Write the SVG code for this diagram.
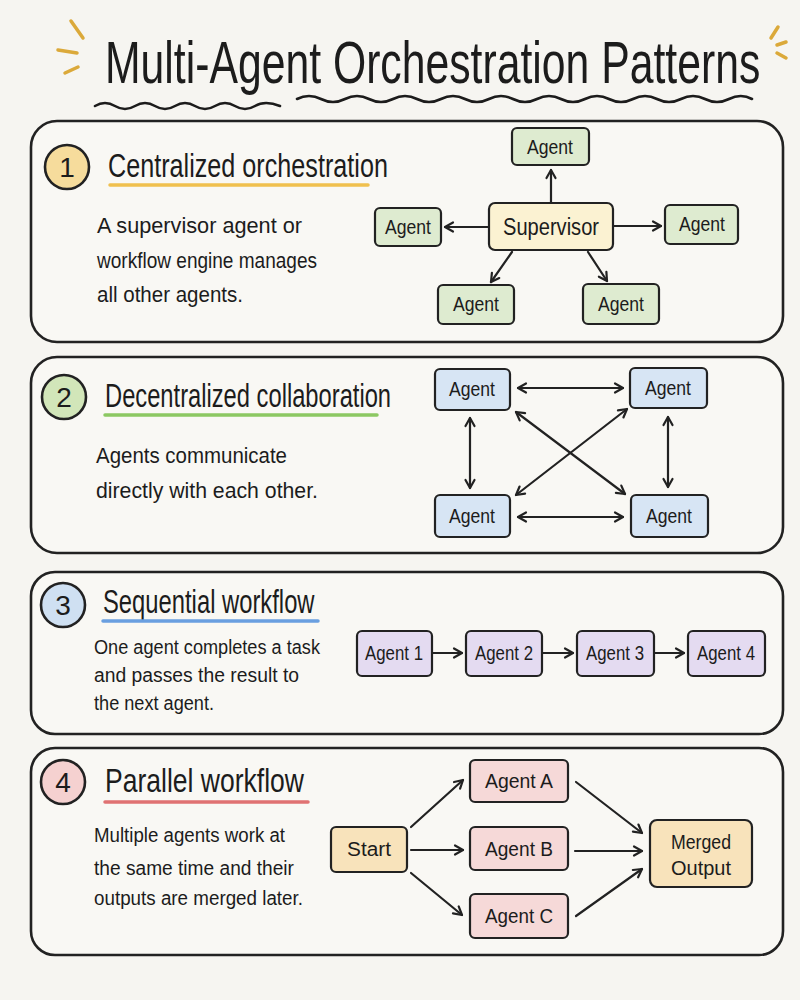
<svg xmlns="http://www.w3.org/2000/svg" width="800" height="1000" viewBox="0 0 800 1000">
<defs>
<marker id="ah" viewBox="0 0 12 12" refX="10" refY="6" markerWidth="12" markerHeight="12" markerUnits="userSpaceOnUse" orient="auto-start-reverse">
<path d="M2,1.5 L10,6 L2,10.5" fill="none" stroke="#222" stroke-width="2.2" stroke-linecap="round" stroke-linejoin="round"/>
</marker>
<style>
text{font-family:"Liberation Sans","DejaVu Sans",sans-serif;fill:#1c1c1c}
.title{font-size:60px}
.h{font-size:34px}
.b{font-size:22px}
.n{font-size:20px;text-anchor:middle}
.num{font-size:28px;text-anchor:middle}
.panel{fill:#f9f8f4;stroke:#222;stroke-width:2.6}
.box{stroke:#222;stroke-width:2.2}
.green{fill:#deebd0}
.yellow{fill:#fbf2d2}
.blue{fill:#d7e5f4}
.purple{fill:#e4dbf1}
.pink{fill:#f6d9d8}
.orange{fill:#f8e3bb}
.c{fill:none;stroke:#222;stroke-width:2.2;stroke-linecap:round}
.sq{fill:none;stroke:#1c1c1c;stroke-width:2.6;stroke-linecap:round}
.spark{stroke:#dba93a;stroke-width:3.5;stroke-linecap:round}
</style>
</defs>
<rect width="800" height="1000" fill="#f6f5f1"/>

<g id="title">
<text class="title" x="0" y="0" transform="translate(105 83) scale(0.712 1)">Multi-Agent Orchestration Patterns</text>
<path class="sq" d="M95,106 q10,-6 20,0 t20,0 t20,0 t20,0 t20,0 t20,0 t20,0 t20,0 t25,0"/>
<path class="sq" d="M297,99 q12,-6 24,0 t24,0 t24,0 t24,0 t24,0 t24,0 t24,0 t24,0 t24,0 t24,0 t24,0 t24,0 t24,0 t24,0 t24,0 t24,0 t24,0 t24,0 t23,0"/>
<line class="spark" x1="71" y1="21" x2="83" y2="38"/>
<line class="spark" x1="58" y1="50" x2="77" y2="53"/>
<line class="spark" x1="65" y1="73" x2="78" y2="67"/>
<line class="spark" x1="778" y1="27" x2="771" y2="38"/>
<line class="spark" x1="786" y1="42" x2="777" y2="45"/>
<line class="spark" x1="777" y1="53" x2="786" y2="58"/>
</g>

<!-- Panel 1 -->
<g id="panel1">
<rect class="panel" x="31" y="121" width="752" height="221" rx="26"/>
<circle cx="67" cy="167" r="22" fill="#f6dc9c" stroke="#222" stroke-width="2.6"/>
<text class="num" x="67" y="177">1</text>
<text class="h" x="0" y="0" transform="translate(108 177) scale(0.741 1)">Centralized orchestration</text>
<line x1="110" y1="185" x2="368" y2="185" stroke="#f0c04e" stroke-width="3.5" stroke-linecap="round"/>
<text class="b" x="97" y="233" textLength="205" lengthAdjust="spacingAndGlyphs">A supervisor agent or</text>
<text class="b" x="97" y="268" textLength="220" lengthAdjust="spacingAndGlyphs">workflow engine manages</text>
<text class="b" x="97" y="302" textLength="146" lengthAdjust="spacingAndGlyphs">all other agents.</text>
</g>
<g id="p1-supervisor"><rect class="box yellow" x="489" y="203" width="124" height="47" rx="6"/><text class="n" x="551" y="235" style="font-size:23px" textLength="96" lengthAdjust="spacingAndGlyphs">Supervisor</text></g>
<g id="p1-agent-top"><rect class="box green" x="512" y="128" width="77" height="37" rx="5"/><text class="n" x="550" y="154" textLength="46" lengthAdjust="spacingAndGlyphs">Agent</text></g>
<g id="p1-agent-left"><rect class="box green" x="375" y="208" width="66" height="38" rx="5"/><text class="n" x="408" y="234" textLength="46" lengthAdjust="spacingAndGlyphs">Agent</text></g>
<g id="p1-agent-right"><rect class="box green" x="665" y="205" width="73" height="39" rx="5"/><text class="n" x="702" y="231" textLength="46" lengthAdjust="spacingAndGlyphs">Agent</text></g>
<g id="p1-agent-bl"><rect class="box green" x="438" y="285" width="76" height="39" rx="5"/><text class="n" x="476" y="311" textLength="46" lengthAdjust="spacingAndGlyphs">Agent</text></g>
<g id="p1-agent-br"><rect class="box green" x="583" y="284" width="76" height="40" rx="5"/><text class="n" x="621" y="311" textLength="46" lengthAdjust="spacingAndGlyphs">Agent</text></g>

<!-- Panel 2 -->
<g id="panel2">
<rect class="panel" x="31" y="357" width="752" height="196" rx="26"/>
<circle cx="64" cy="397" r="22" fill="#d2e6b9" stroke="#222" stroke-width="2.6"/>
<text class="num" x="64" y="407">2</text>
<text class="h" x="0" y="0" transform="translate(105 407) scale(0.698 1)">Decentralized collaboration</text>
<line x1="105" y1="415" x2="377" y2="415" stroke="#8cc862" stroke-width="3.5" stroke-linecap="round"/>
<text class="b" x="96" y="463" textLength="191" lengthAdjust="spacingAndGlyphs">Agents communicate</text>
<text class="b" x="96" y="498" textLength="222" lengthAdjust="spacingAndGlyphs">directly with each other.</text>
</g>
<g id="p2-agent-tl"><rect class="box blue" x="435" y="369" width="75" height="41" rx="5"/><text class="n" x="472" y="396" textLength="46" lengthAdjust="spacingAndGlyphs">Agent</text></g>
<g id="p2-agent-tr"><rect class="box blue" x="630" y="368" width="77" height="40" rx="5"/><text class="n" x="668" y="395" textLength="46" lengthAdjust="spacingAndGlyphs">Agent</text></g>
<g id="p2-agent-bl"><rect class="box blue" x="435" y="495" width="75" height="42" rx="5"/><text class="n" x="472" y="523" textLength="46" lengthAdjust="spacingAndGlyphs">Agent</text></g>
<g id="p2-agent-br"><rect class="box blue" x="631" y="495" width="77" height="42" rx="5"/><text class="n" x="669" y="523" textLength="46" lengthAdjust="spacingAndGlyphs">Agent</text></g>

<!-- Panel 3 -->
<g id="panel3">
<rect class="panel" x="31" y="572" width="752" height="162" rx="24"/>
<circle cx="63" cy="605" r="22" fill="#cfe0f2" stroke="#222" stroke-width="2.6"/>
<text class="num" x="63" y="615">3</text>
<text class="h" x="0" y="0" transform="translate(103 613) scale(0.70 1)">Sequential workflow</text>
<line x1="103" y1="621" x2="318" y2="621" stroke="#6a9fe0" stroke-width="3.5" stroke-linecap="round"/>
<text class="b" x="94" y="654" style="font-size:20px" textLength="226" lengthAdjust="spacingAndGlyphs">One agent completes a task</text>
<text class="b" x="94" y="682" style="font-size:20px" textLength="205" lengthAdjust="spacingAndGlyphs">and passes the result to</text>
<text class="b" x="94" y="710" style="font-size:20px" textLength="120" lengthAdjust="spacingAndGlyphs">the next agent.</text>
</g>
<g id="p3-agent1"><rect class="box purple" x="357" y="631" width="75" height="45" rx="5"/><text class="n" x="394" y="660" textLength="58" lengthAdjust="spacingAndGlyphs">Agent 1</text></g>
<g id="p3-agent2"><rect class="box purple" x="466" y="631" width="76" height="45" rx="5"/><text class="n" x="504" y="660" textLength="58" lengthAdjust="spacingAndGlyphs">Agent 2</text></g>
<g id="p3-agent3"><rect class="box purple" x="577" y="631" width="77" height="45" rx="5"/><text class="n" x="615" y="660" textLength="58" lengthAdjust="spacingAndGlyphs">Agent 3</text></g>
<g id="p3-agent4"><rect class="box purple" x="688" y="631" width="77" height="45" rx="5"/><text class="n" x="726" y="660" textLength="58" lengthAdjust="spacingAndGlyphs">Agent 4</text></g>

<!-- Panel 4 -->
<g id="panel4">
<rect class="panel" x="31" y="748" width="752" height="207" rx="24"/>
<circle cx="63" cy="782" r="22" fill="#f5d1d0" stroke="#222" stroke-width="2.6"/>
<text class="num" x="63" y="792">4</text>
<text class="h" x="0" y="0" transform="translate(105 792) scale(0.78 1)">Parallel workflow</text>
<line x1="105" y1="802" x2="308" y2="802" stroke="#e07272" stroke-width="3.5" stroke-linecap="round"/>
<text class="b" x="94" y="842" style="font-size:20px" textLength="191" lengthAdjust="spacingAndGlyphs">Multiple agents work at</text>
<text class="b" x="94" y="875" style="font-size:20px" textLength="200" lengthAdjust="spacingAndGlyphs">the same time and their</text>
<text class="b" x="94" y="905" style="font-size:20px" textLength="209" lengthAdjust="spacingAndGlyphs">outputs are merged later.</text>
</g>
<g id="p4-start"><rect class="box orange" x="331" y="827" width="76" height="45" rx="5"/><text class="n" x="369" y="856" textLength="44" lengthAdjust="spacingAndGlyphs">Start</text></g>
<g id="p4-agentA"><rect class="box pink" x="470" y="760" width="98" height="42" rx="5"/><text class="n" x="519" y="788" textLength="68" lengthAdjust="spacingAndGlyphs">Agent A</text></g>
<g id="p4-agentB"><rect class="box pink" x="470" y="827" width="98" height="43" rx="5"/><text class="n" x="519" y="856" textLength="68" lengthAdjust="spacingAndGlyphs">Agent B</text></g>
<g id="p4-agentC"><rect class="box pink" x="470" y="894" width="98" height="44" rx="5"/><text class="n" x="519" y="923" textLength="68" lengthAdjust="spacingAndGlyphs">Agent C</text></g>
<g id="p4-merged"><rect class="box orange" x="650" y="820" width="102" height="67" rx="7"/><text class="n" x="701" y="849" textLength="60" lengthAdjust="spacingAndGlyphs">Merged</text><text class="n" x="701" y="875" textLength="60" lengthAdjust="spacingAndGlyphs">Output</text></g>

<g id="connectors">
<line class="c" x1="551" y1="202" x2="551" y2="170" marker-end="url(#ah)"/>
<line class="c" x1="489" y1="227" x2="445" y2="227" marker-end="url(#ah)"/>
<line class="c" x1="613" y1="226" x2="661" y2="226" marker-end="url(#ah)"/>
<line class="c" x1="512" y1="252" x2="491" y2="282" marker-end="url(#ah)"/>
<line class="c" x1="588" y1="252" x2="607" y2="281" marker-end="url(#ah)"/>
<line class="c" x1="518" y1="388" x2="623" y2="388" marker-start="url(#ah)" marker-end="url(#ah)"/>
<line class="c" x1="518" y1="517" x2="623" y2="517" marker-start="url(#ah)" marker-end="url(#ah)"/>
<line class="c" x1="470" y1="418" x2="470" y2="488" marker-start="url(#ah)" marker-end="url(#ah)"/>
<line class="c" x1="668" y1="417" x2="668" y2="487" marker-start="url(#ah)" marker-end="url(#ah)"/>
<line class="c" x1="516" y1="412" x2="625" y2="494" marker-start="url(#ah)" marker-end="url(#ah)"/>
<line class="c" x1="627" y1="409" x2="516" y2="495" marker-start="url(#ah)" marker-end="url(#ah)"/>
<line class="c" x1="433" y1="653" x2="462" y2="653" marker-end="url(#ah)"/>
<line class="c" x1="543" y1="653" x2="573" y2="653" marker-end="url(#ah)"/>
<line class="c" x1="655" y1="653" x2="684" y2="653" marker-end="url(#ah)"/>
<line class="c" x1="411" y1="827" x2="463" y2="780" marker-end="url(#ah)"/>
<line class="c" x1="411" y1="850" x2="463" y2="850" marker-end="url(#ah)"/>
<line class="c" x1="411" y1="873" x2="462" y2="915" marker-end="url(#ah)"/>
<line class="c" x1="576" y1="782" x2="642" y2="833" marker-end="url(#ah)"/>
<line class="c" x1="575" y1="851" x2="642" y2="851" marker-end="url(#ah)"/>
<line class="c" x1="576" y1="916" x2="642" y2="869" marker-end="url(#ah)"/>
</g>
</svg>
